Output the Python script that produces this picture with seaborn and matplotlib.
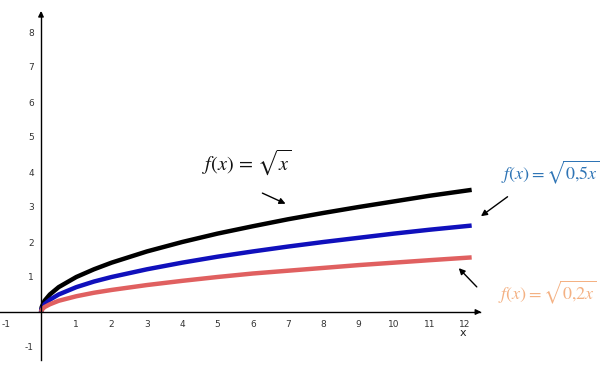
import numpy as np
import pandas as pd
import matplotlib
matplotlib.use("Agg")
import matplotlib.pyplot as plt
import seaborn as sns

# Data
x_vals = [0, 0.02, 0.1, 0.25, 0.5, 1, 1.5, 2, 3, 4, 5, 6, 7, 8, 9, 10, 11, 12.2]
y_sqrt_x = [0, 0.14, 0.32, 0.50, 0.71, 1.00, 1.22, 1.41, 1.73, 2.00, 2.24, 2.45, 2.65, 2.83, 3.00, 3.16, 3.32, 3.49]
y_sqrt_05x = [0, 0.10, 0.22, 0.35, 0.50, 0.71, 0.87, 1.00, 1.22, 1.41, 1.58, 1.73, 1.87, 2.00, 2.12, 2.24, 2.35, 2.47]
y_sqrt_02x = [0, 0.06, 0.14, 0.22, 0.32, 0.45, 0.55, 0.63, 0.77, 0.89, 1.00, 1.10, 1.18, 1.26, 1.34, 1.41, 1.48, 1.56]
series_names = ["sqrt(x)", "sqrt(0.5x)", "sqrt(0.2x)"]
x_ticks = [-1, 1, 2, 3, 4, 5, 6, 7, 8, 9, 10, 11, 12]
y_ticks = [-1, 1, 2, 3, 4, 5, 6, 7, 8]
labels = [r"$f(x)\,=\,\sqrt{x}$", r"$f(x)=\sqrt{0{,}5x}$", r"$f(x)=\sqrt{0{,}2x}$"]

df = pd.DataFrame({
    "x": x_vals * 3,
    "y": y_sqrt_x + y_sqrt_05x + y_sqrt_02x,
    "f": [series_names[0]] * len(x_vals) + [series_names[1]] * len(x_vals) + [series_names[2]] * len(x_vals),
})

sns.set_style("white")
plt.rcParams["mathtext.fontset"] = "stix"
plt.rcParams["axes.unicode_minus"] = False

fig = plt.figure(figsize=(6.07, 3.65), dpi=100)
ax = fig.add_axes([0, 0, 1, 1])

palette = {series_names[0]: "#000000", series_names[1]: "#1010bc", series_names[2]: "#e06060"}
sns.lineplot(data=df, x="x", y="y", hue="f", palette=palette, linewidth=3.2,
             legend=False, ax=ax, sort=False)
for ln in ax.lines:
    ln.set_solid_capstyle("butt")

ux = 35.3
uy = 35.0
ox, oy = 41, 312
ax.set_xlim(-ox / ux, (607 - ox) / ux)
ax.set_ylim(-(365 - oy) / uy, oy / uy)

for s in ["top", "right"]:
    ax.spines[s].set_visible(False)
ax.spines["left"].set_position(("data", 0))
ax.spines["bottom"].set_position(("data", 0))
ax.spines["bottom"].set_bounds(-ox / ux, 12.45)
ax.spines["left"].set_bounds(-1.37, 8.55)
for s in ["left", "bottom"]:
    ax.spines[s].set_color("black")
    ax.spines[s].set_linewidth(1.0)

# arrow heads
ax.annotate("", xy=(12.55, 0), xytext=(12.3, 0),
            arrowprops=dict(arrowstyle="-|>", color="black", lw=1, mutation_scale=8))
ax.annotate("", xy=(0, 8.68), xytext=(0, 8.4),
            arrowprops=dict(arrowstyle="-|>", color="black", lw=1, mutation_scale=8))

ax.set_xticks(x_ticks)
ax.set_yticks(y_ticks)
ax.tick_params(axis="x", direction="out", length=3, width=0.8, labelsize=6.5, pad=3, colors="#333333")
ax.tick_params(axis="y", direction="out", length=3, width=0.8, labelsize=6.5, pad=2, colors="#333333")
ax.set_xlabel("")
ax.set_ylabel("")
ax.text(11.95, -0.6, "x", fontsize=8, ha="center", va="center", color="#222222")

# function labels and arrows
ax.text(5.84, 4.27, labels[0], fontsize=14.5, color="#111111", ha="center", va="center")
ax.annotate("", xy=(7.0, 3.06), xytext=(6.2, 3.43),
            arrowprops=dict(arrowstyle="-|>", color="black", lw=1, mutation_scale=9))

ax.text(14.44, 3.98, labels[1], fontsize=13, color="#2e74b5", ha="center", va="center")
ax.annotate("", xy=(12.4, 2.69), xytext=(13.28, 3.34),
            arrowprops=dict(arrowstyle="-|>", color="black", lw=1, mutation_scale=9))

ax.text(14.36, 0.57, labels[2], fontsize=13, color="#f4b183", ha="center", va="center")
ax.annotate("", xy=(11.78, 1.31), xytext=(12.4, 0.66),
            arrowprops=dict(arrowstyle="-|>", color="black", lw=1, mutation_scale=9))

fig.savefig("out.png", dpi=100)
